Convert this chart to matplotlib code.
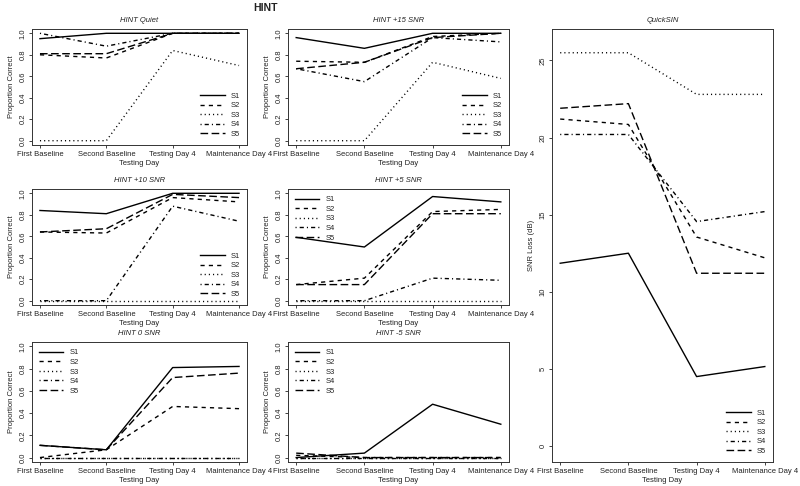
import matplotlib.pyplot as plt

plt.rcParams['font.family'] = ['Liberation Sans', 'DejaVu Sans']

days = ["First Baseline", "Second Baseline", "Testing Day 4", "Maintenance Day 4"]
subjects = ["S1", "S2", "S3", "S4", "S5"]

# proportion correct per subject (S1..S5) at the four testing days
hint_quiet = [[0.95, 1.00, 1.00, 1.00],
              [0.80, 0.77, 1.00, 1.00],
              [0.00, 0.00, 0.84, 0.70],
              [1.00, 0.88, 1.00, 1.00],
              [0.81, 0.81, 1.00, 1.00]]
hint_p15 = [[0.96, 0.86, 1.00, 1.00],
            [0.74, 0.73, 0.97, 1.00],
            [0.00, 0.00, 0.73, 0.58],
            [0.67, 0.55, 0.96, 0.92],
            [0.67, 0.73, 0.96, 1.00]]
hint_p10 = [[0.84, 0.81, 1.00, 1.00],
            [0.64, 0.63, 0.96, 0.92],
            [0.00, 0.00, 0.00, 0.00],
            [0.00, 0.00, 0.88, 0.74],
            [0.64, 0.67, 0.99, 0.96]]
hint_p5 = [[0.59, 0.50, 0.97, 0.92],
           [0.15, 0.21, 0.83, 0.85],
           [0.00, 0.00, 0.00, 0.00],
           [0.00, 0.00, 0.21, 0.19],
           [0.15, 0.15, 0.81, 0.81]]
hint_0 = [[0.11, 0.07, 0.81, 0.82],
          [0.00, 0.07, 0.46, 0.44],
          [0.00, 0.00, 0.00, 0.00],
          [0.00, 0.00, 0.00, 0.00],
          [0.11, 0.07, 0.72, 0.76]]
hint_m5 = [[0.00, 0.04, 0.48, 0.30],
           [0.02, 0.00, 0.00, 0.00],
           [0.00, 0.00, 0.00, 0.00],
           [0.00, 0.00, 0.00, 0.00],
           [0.04, 0.00, 0.00, 0.00]]
# SNR loss in dB
quicksin = [[11.85, 12.5, 4.5, 5.15],
            [21.2, 20.85, 13.55, 12.2],
            [25.5, 25.5, 22.8, 22.8],
            [20.2, 20.2, 14.55, 15.2],
            [21.9, 22.2, 11.2, 11.2]]

# R-style line types: solid, dashed, dotted, dotdash, longdash
dash_styles = [(None, None), (0, (3, 3)), (0, (0.8, 2.2)),
               (0, (0.8, 2.2, 3, 2.2)), (0, (5.5, 2.5))]

W, H = 800, 486
fig = plt.figure(figsize=(8, 4.86), dpi=100)
txt = '#222222'


def box(x0, x1, y0, y1):
    return [x0 / W, 1 - y1 / H, (x1 - x0) / W, (y1 - y0) / H]


def panel(rect, data, title, legend_loc, quick=False):
    ax = fig.add_axes(rect)
    xs = [1, 2, 3, 4]
    for i, vals in enumerate(data):
        ls = dash_styles[i]
        if ls[0] is None:
            ax.plot(xs, vals, color='black', lw=1.0, label=subjects[i])
        else:
            ax.plot(xs, vals, color='black', lw=1.0, linestyle=ls, label=subjects[i])
    ax.set_xlim(0.88, 4.12)
    if quick:
        ax.set_ylim(-1.04, 27.04)
        ax.set_yticks([0, 5, 10, 15, 20, 25])
        ax.set_ylabel('SNR Loss (dB)', fontsize=5.5, color=txt, labelpad=3)
    else:
        ax.set_ylim(-0.04, 1.04)
        ax.set_yticks([0, 0.2, 0.4, 0.6, 0.8, 1.0])
        ax.set_yticklabels(['0.0', '0.2', '0.4', '0.6', '0.8', '1.0'])
        ax.set_ylabel('Proportion Correct', fontsize=5.5, color=txt, labelpad=3)
    ax.set_xticks(xs)
    ax.set_xticklabels(days)
    ax.tick_params(axis='both', labelsize=5.5, colors=txt, length=2.5, width=0.6, pad=1.5)
    for lab in ax.get_yticklabels():
        lab.set_rotation(90)
        lab.set_va('center')
    ax.set_xlabel('Testing Day', fontsize=5.5, color=txt, labelpad=1.5)
    ax.set_title(title, fontsize=5.5, style='italic', color=txt, pad=5)
    for sp in ax.spines.values():
        sp.set_linewidth(0.7)
        sp.set_color('#333333')
    leg = ax.legend(loc=legend_loc, frameon=False, fontsize=5.5, handlelength=3.2,
                    labelspacing=0.3, handletextpad=0.8, borderaxespad=0.5)
    for t in leg.get_texts():
        t.set_color(txt)
    return ax


cols = [(32, 247), (288, 509), (552, 773)]
rows = [(29, 145), (189, 305), (342, 462)]

panel(box(*cols[0], *rows[0]), hint_quiet, 'HINT Quiet', 'lower right')
panel(box(*cols[1], *rows[0]), hint_p15, 'HINT +15 SNR', 'lower right')
panel(box(*cols[0], *rows[1]), hint_p10, 'HINT +10 SNR', 'lower right')
panel(box(*cols[1], *rows[1]), hint_p5, 'HINT +5 SNR', 'upper left')
panel(box(*cols[0], *rows[2]), hint_0, 'HINT 0 SNR', 'upper left')
panel(box(*cols[1], *rows[2]), hint_m5, 'HINT -5 SNR', 'upper left')
panel(box(*cols[2], 29, 462), quicksin, 'QuickSIN', 'lower right', quick=True)

fig.text(265 / W, 1 - 8 / H, 'HINT', fontsize=7.5, fontweight='bold', color=txt,
         ha='center', va='center')

fig.savefig('out.png', dpi=100)
